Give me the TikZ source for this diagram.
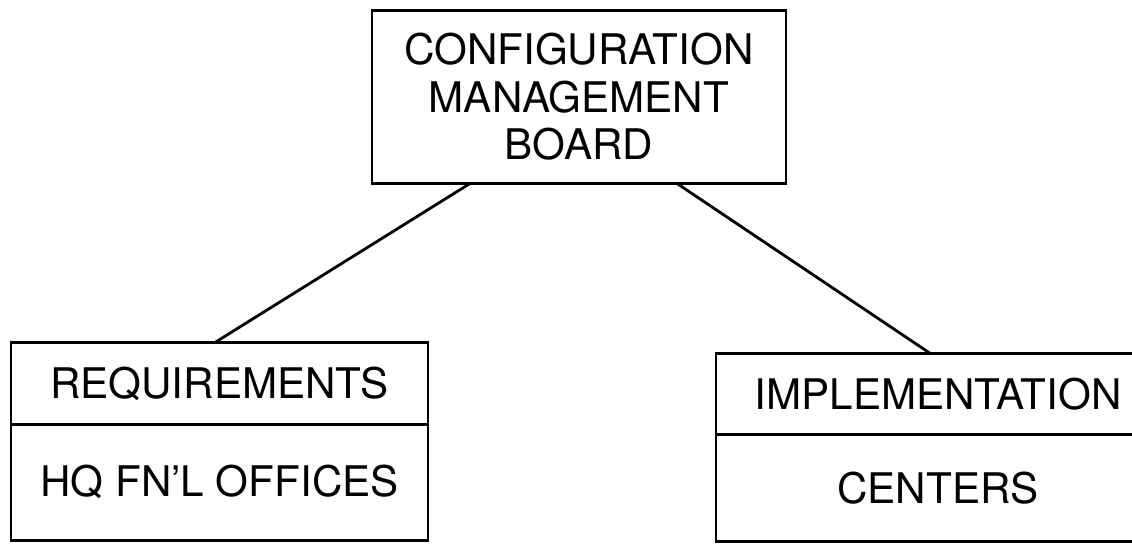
\documentclass[tikz,border=0pt]{standalone}
\usepackage{fontspec}
\setmainfont{TeX Gyre Heros}
\usetikzlibrary{positioning}

\begin{document}
\begin{tikzpicture}[x=0.02cm, y=0.02cm, node distance=0pt,
  font=\fontsize{24}{27}\selectfont,
  board/.style={draw, line width=1.6pt, outer sep=0pt, align=center, minimum width=8.28cm, minimum height=3.46cm},
  head/.style={draw, line width=1.6pt, outer sep=0pt, align=center, minimum height=1.63cm},
  body/.style={draw, line width=1.6pt, outer sep=0pt, align=center}]
  \useasboundingbox (0,0) rectangle (1132,549);
  \node[board] (cmb) at (579,452) {CONFIGURATION\\MANAGEMENT\\BOARD};
  \node[head, minimum width=8.34cm] (req) at (219.5,165.5) {REQUIREMENTS};
  \node[body, minimum width=8.34cm, minimum height=2.32cm, below=of req] (hq) {HQ FN'L OFFICES};
  \node[head, minimum width=8.88cm] (impl) at (938,155) {IMPLEMENTATION};
  \node[body, minimum width=8.88cm, minimum height=2.14cm, below=of impl] (ctr) {CENTERS};
  \draw[line width=1.6pt] ([xshift=-2.18cm]cmb.south) -- ([xshift=-0.1cm]req.north);
  \draw[line width=1.6pt] ([xshift=1.96cm]cmb.south) -- ([xshift=-0.16cm]impl.north);
\end{tikzpicture}
\end{document}
